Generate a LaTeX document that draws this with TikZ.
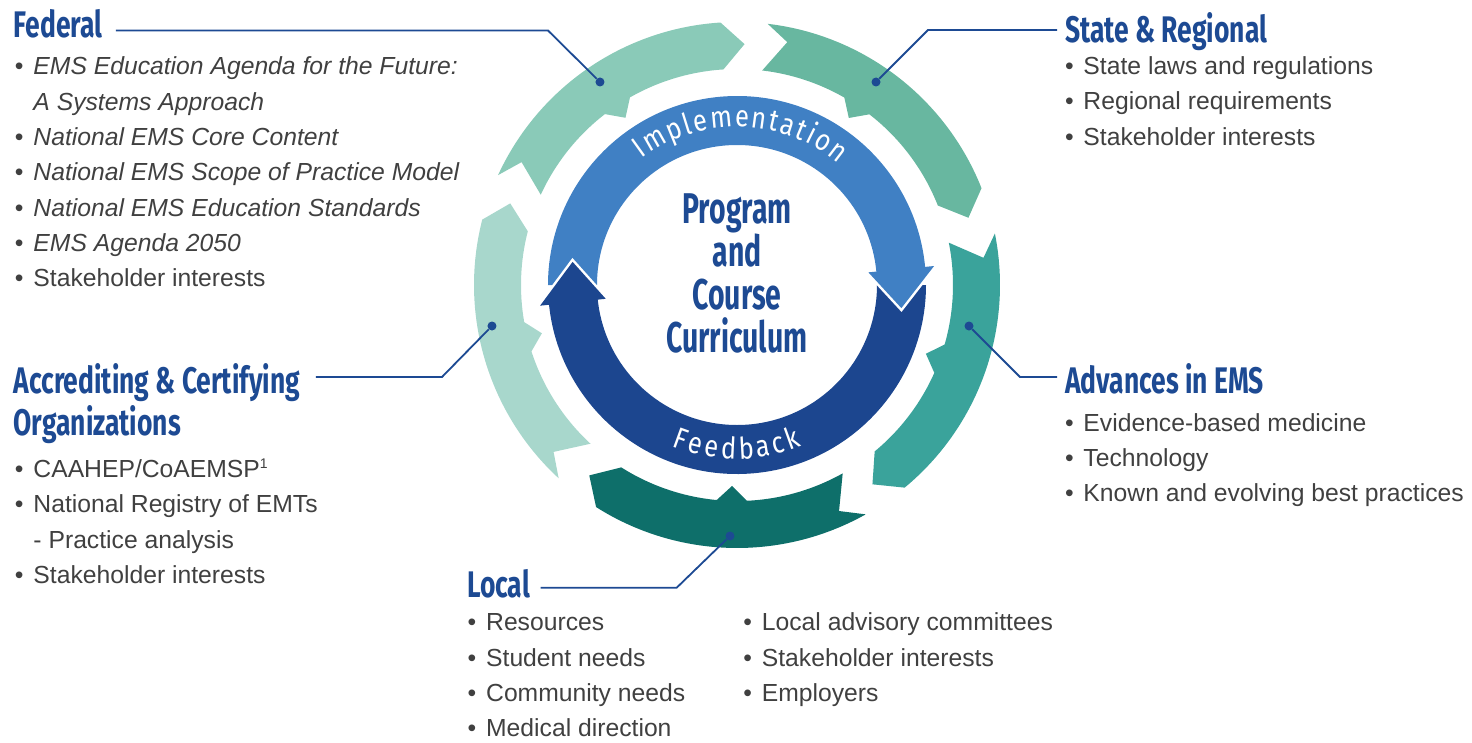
\documentclass[tikz,border=0pt]{standalone}
\usepackage{fontspec}
\setmainfont{Liberation Sans}
\newfontfamily\condfont[FakeStretch=0.66]{Fira Sans}
\newfontfamily\headfont[FakeStretch=0.715]{Fira Sans}
\newfontfamily\ringfont[FakeStretch=0.85]{Fira Sans}
\usetikzlibrary{decorations.text}
\definecolor{headblue}{HTML}{1D4A93}
\definecolor{textgray}{HTML}{404040}
\definecolor{implcol}{HTML}{4080C4}
\definecolor{feedcol}{HTML}{1C468F}
\definecolor{fedcol}{HTML}{8ACAB8}
\definecolor{statecol}{HTML}{68B7A0}
\definecolor{advcol}{HTML}{3AA39B}
\definecolor{localcol}{HTML}{0E6F6A}
\definecolor{accrcol}{HTML}{A8D7CC}
\tikzset{
  heading/.style={anchor=base west,inner sep=0,text=headblue,
                  font=\headfont\bfseries\fontsize{37}{41}\selectfont},
  items/.style={anchor=base west,inner sep=0,text=textgray,
                font=\fontsize{24.7}{35.3}\selectfont},
  link/.style={headblue,line width=1.8pt},
  pin/.style={circle,fill=headblue,inner sep=0,minimum size=9pt},
  ring text/.style={decorate,decoration={text along path,text align=fit to path,
                    text color=white,text={|\ringfont\fontsize{30}{30}\selectfont|#1}}}}
\newcommand\bul{\makebox[18.5pt][l]{\textbullet}}
\newcommand\ringArrow[3]{
  \fill[#2] (#1:\Ro) arc[start angle=#1,end angle=#1-61.7,radius=\Ro]
    -- ({#1-67.1}:241) -- ({#1-61.7}:\Ri)
    arc[start angle=#1-61.7,end angle=#1-#3-4,radius=\Ri]
    -- ({#1-#3}:201) -- ({#1-#3+4}:\Ri)
    arc[start angle=#1-#3+4,end angle=#1,radius=\Ri]
    -- ({#1-5}:248) -- cycle;
}

\begin{document}
\begin{tikzpicture}[x=1pt,y=1pt]
  \def\Ro{263}
  \def\Ri{216}
  \def\rout{189}
  \def\rin{140}
  \useasboundingbox (-737,-457) rectangle (735,285);

  % OUTER ARROWS
  \foreach \ang/\col/\tooth in {155.3/fedcol/31.6,83.3/statecol/27.1,11.3/advcol/31.3,
                                -60.7/localcol/30.7,-132.7/accrcol/33.4}
    \ringArrow{\ang}{\col}{\tooth};

  % INNER RING
  \fill[implcol] (180:\rin) arc[start angle=180,end angle=5,radius=\rin]
    -- (5:\rout) arc[start angle=5,end angle=180,radius=\rout] -- cycle;
  \fill[feedcol] (0:\rin) arc[start angle=0,end angle=-175,radius=\rin]
    -- (-175:\rout) arc[start angle=-175,end angle=0,radius=\rout] -- cycle;
  \draw[white,line width=5pt] (5.5:132) -- (-8:166) -- (5.5:198);
  \fill[implcol] (5.5:132) -- (-8:166) -- (5.5:198) -- cycle;
  \draw[white,line width=5pt] (186:132) -- (172:166) -- (186:198);
  \fill[feedcol] (186:132) -- (172:166) -- (186:198) -- cycle;
  \path[ring text={Implementation}] (127:158) arc[start angle=127,end angle=50,radius=158];
  \path[ring text={Feedback}] (248:174) arc[start angle=248,end angle=292,radius=174];
  \node[anchor=north,inner sep=0,align=center,text=headblue,
        font=\condfont\bfseries\fontsize{43}{43}\selectfont] (prog) at (0,92)
        {Program\\and\\Course\\Curriculum};

  % LABELS
  \node[heading] (fedHead) at (-723.5,247.7) {Federal};
  \node[items] (fedList) at (-722.2,210) {\begin{tabular}[t]{@{}l@{}}
    \bul\textit{EMS Education Agenda for the Future:}\\
    \hspace{18.5pt}\textit{A Systems Approach}\\
    \bul\textit{National EMS Core Content}\\
    \bul\textit{National EMS Scope of Practice Model}\\
    \bul\textit{National EMS Education Standards}\\
    \bul\textit{EMS Agenda 2050}\\
    \bul Stakeholder interests\end{tabular}};
  \node[heading] (stateHead) at (328,242) {State \& Regional};
  \node[items] (stateList) at (327.8,210.5) {\begin{tabular}[t]{@{}l@{}}
    \bul State laws and regulations\\
    \bul Regional requirements\\
    \bul Stakeholder interests\end{tabular}};
  \node[heading] (advHead) at (328,-108.3) {Advances in EMS};
  \node[items] (advList) at (327.8,-146) {\begin{tabular}[t]{@{}l@{}}
    \bul Evidence-based medicine\\
    \bul Technology\\
    \bul Known and evolving best practices\end{tabular}};
  \node[heading] (accrHead) at (-723.5,-108.3) {\begin{tabular}[t]{@{}l@{}}
    Accrediting \& Certifying\\Organizations\end{tabular}};
  \node[items] (accrList) at (-722.2,-192.5) {\begin{tabular}[t]{@{}l@{}}
    \bul CAAHEP/CoAEMSP\textsuperscript{\fontsize{14}{14}\selectfont 1}\\
    \bul National Registry of EMTs\\
    \hspace{18.5pt}- Practice analysis\\
    \bul Stakeholder interests\end{tabular}};
  \node[heading] (localHead) at (-270,-312.3) {Local};
  \node[items] (localListA) at (-269.5,-345.7) {\begin{tabular}[t]{@{}l@{}}
    \bul Resources\\
    \bul Student needs\\
    \bul Community needs\\
    \bul Medical direction\end{tabular}};
  \node[items] (localListB) at (6.2,-345.7) {\begin{tabular}[t]{@{}l@{}}
    \bul Local advisory committees\\
    \bul Stakeholder interests\\
    \bul Employers\end{tabular}};

  % LINKS
  \coordinate (fedA) at (-621,254.5);
  \coordinate (fedB) at (-189,254.5);
  \node[pin] (fedDot) at (-137,203) {};
  \coordinate (stateA) at (320,255);
  \coordinate (stateB) at (191,255);
  \node[pin] (stateDot) at (139,203) {};
  \coordinate (advA) at (320,-92);
  \coordinate (advB) at (283,-92);
  \node[pin] (advDot) at (232,-41) {};
  \coordinate (accrA) at (-421,-92);
  \coordinate (accrB) at (-295,-92);
  \node[pin] (accrDot) at (-245,-41) {};
  \coordinate (localA) at (-196.3,-302.7);
  \coordinate (localB) at (-60.3,-302.7);
  \node[pin] (localDot) at (-7,-251) {};
  \draw[link] (fedA) -- (fedB) -- (fedDot);
  \draw[link] (stateA) -- (stateB) -- (stateDot);
  \draw[link] (advA) -- (advB) -- (advDot);
  \draw[link] (accrA) -- (accrB) -- (accrDot);
  \draw[link] (localA) -- (localB) -- (localDot);

\end{tikzpicture}
\end{document}
